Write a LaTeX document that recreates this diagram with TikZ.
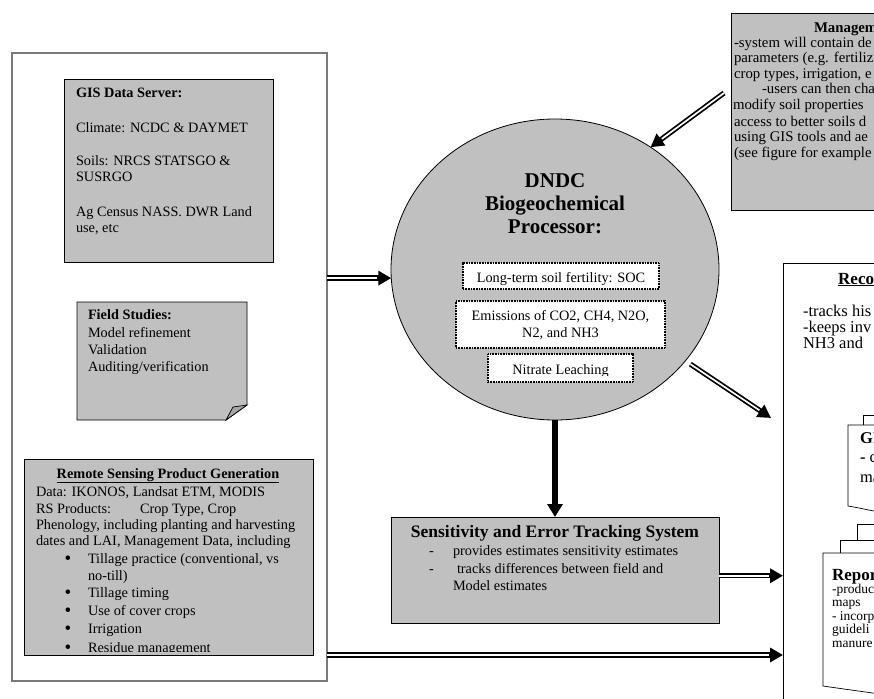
\documentclass[tikz,border=0pt]{standalone}
\usepackage{fontspec}
\setmainfont{Liberation Serif}
\usetikzlibrary{shapes.geometric, arrows.meta}
\definecolor{boxgray}{HTML}{C0C0C0}
\definecolor{foldgray}{HTML}{A6A6A6}
\definecolor{framegray}{HTML}{7A7A7A}
\newcommand{\setfs}[2]{\fontsize{#1}{#2}\selectfont}
\tikzset{
  gbox/.style={draw=black, line width=0.8pt, fill=boxgray, inner sep=0pt, outer sep=0pt, anchor=north west},
  wbox/.style={draw=black, line width=0.8pt, fill=white, inner sep=0pt, outer sep=0pt, anchor=north west},
  dotbox/.style={draw=black, line width=1.6pt, dash pattern=on 0.8pt off 0.8pt, fill=white, inner sep=0pt, outer sep=0pt, anchor=north west},
  txt/.style={inner sep=0pt, outer sep=0pt, anchor=base west, font=\setfs{14.3}{16}},
  ctxt/.style={inner sep=0pt, outer sep=0pt, anchor=base, font=\setfs{14.3}{16}},
  btxt/.style={inner sep=0pt, outer sep=0pt, anchor=base west, font=\bfseries\setfs{14.3}{16}},
  bul/.style={inner sep=0pt, outer sep=0pt, anchor=base, font=\setfs{19}{16}},
  mtxt/.style={inner sep=0pt, outer sep=0pt, anchor=base west, font=\setfs{14.8}{16}},
  dblarr/.style={line width=5.2pt, -{Triangle[length=13pt,width=14pt]},
    postaction={draw=white, line width=1.7pt, -, shorten >=14pt}},
  solarr/.style={line width=5.5pt, -{Triangle[length=13pt,width=15pt]}},
  docline/.style={draw=black, line width=0.7pt, fill=white}
}
\begin{document}
\begin{tikzpicture}[x=1pt, y=-1pt]
\useasboundingbox (0,0) rectangle (874,698);
\clip (0,0) rectangle (874,698);
\fill[white] (0,0) rectangle (874,698);

% ---------- left frame ----------
\node[draw=framegray, line width=1.2pt, fill=white, inner sep=0pt, outer sep=0pt, anchor=north west,
      minimum width=315, minimum height=628] (lbox) at (12,53) {};

% GIS data server
\node[gbox, minimum width=209, minimum height=183] (gis) at (64,79) {};
\node[btxt] (gis1) at (76,98) {GIS Data Server:};
\node[txt] (gis2) at (76,132) {Climate: NCDC \& DAYMET};
\node[txt] (gis3) at (76,165) {Soils: NRCS STATSGO \&};
\node[txt] (gis4) at (76,181) {SUSRGO};
\node[txt] (gis5) at (76,216) {Ag Census NASS. DWR Land};
\node[txt] (gis6) at (76,232) {use, etc};

% Field studies (folded corner note)
\draw[draw=black, line width=0.8pt, fill=boxgray] (77,302) -- (247,302) -- (247,405) -- (226,420) -- (77,420) -- cycle;
\draw[draw=black, line width=0.7pt, fill=foldgray] (226,420) -- (233,407) -- (247,405) -- cycle;
\node[btxt] (fs1) at (88,319) {Field Studies:};
\node[txt] (fs2) at (88,337) {Model refinement};
\node[txt] (fs3) at (88,354) {Validation};
\node[txt] (fs4) at (88,371) {Auditing/verification};

% Remote sensing
\node[gbox, minimum width=289, minimum height=196] (rs) at (24,459) {};
\node[inner sep=0pt, anchor=base, font=\bfseries\setfs{14.3}{16}] (rs0) at (168,478) {\underline{Remote Sensing Product Generation}};
\begin{scope}
\clip (24,459) rectangle (313,651);
\node[txt] (rs1) at (36,496) {Data: IKONOS, Landsat ETM, MODIS};
\node[txt] (rs2) at (36,513) {RS Products:};
\node[txt] (rs2b) at (140,513) {Crop Type, Crop};
\node[txt] (rs3) at (36,529) {Phenology, including planting and harvesting};
\node[txt] (rs4) at (36,545) {dates and LAI, Management Data, including};
\node[bul] (b1) at (68,564) {•};
\node[txt] (rs5) at (88,563) {Tillage practice (conventional, vs};
\node[txt] (rs6) at (88,580) {no-till)};
\node[bul] (b2) at (68,598) {•};
\node[txt] (rs7) at (88,597) {Tillage timing};
\node[bul] (b3) at (68,616) {•};
\node[txt] (rs8) at (88,615) {Use of cover crops};
\node[bul] (b4) at (68,634) {•};
\node[txt] (rs9) at (88,633) {Irrigation};
\node[bul] (b5) at (68,653) {•};
\node[txt] (rs10) at (88,652) {Residue management};
\end{scope}

% ---------- DNDC processor ----------
\node[ellipse, draw=black, line width=0.8pt, fill=boxgray, minimum width=328, minimum height=301, inner sep=0pt, outer sep=0pt] (circ) at (555,269.5) {};
\node[inner sep=0pt, anchor=base, font=\bfseries\setfs{21}{23}] (dn1) at (555,187) {DNDC};
\node[inner sep=0pt, anchor=base, font=\bfseries\setfs{21}{23}] (dn2) at (555,210) {Biogeochemical};
\node[inner sep=0pt, anchor=base, font=\bfseries\setfs{21}{23}] (dn3) at (555,233) {Processor:};

\node[dotbox, minimum width=196, minimum height=26] (d1) at (463,263) {};
\node[ctxt] (d1t) at (561,282) {Long-term soil fertility: SOC};
\node[dotbox, minimum width=209, minimum height=47] (d2) at (456,301) {};
\node[ctxt] (d2a) at (560.5,320) {Emissions of CO2, CH4, N2O,};
\node[ctxt] (d2b) at (560.5,337) {N2, and NH3};
\node[dotbox, minimum width=145, minimum height=28] (d3) at (488,354) {};
\begin{scope}
\clip (488,354) rectangle (633,375.5);
\node[ctxt] (d3t) at (560.5,374) {Nitrate Leaching};
\end{scope}

% ---------- Management ----------
\node[gbox, minimum width=200, minimum height=197] (mgmt) at (731,13) {};
\node[btxt, font=\bfseries\setfs{14.8}{16}] (m0) at (814,33) {Managem};
\node[mtxt] (m1) at (734,48) {-system will contain de};
\node[mtxt] (m2) at (734,63) {parameters (e.g. fertiliz};
\node[mtxt] (m3) at (734,79) {crop types, irrigation, e};
\node[mtxt] (m4) at (762,94) {-users can then cha};
\node[mtxt] (m5) at (733,110) {modify soil properties};
\node[mtxt] (m6) at (734,126) {access to better soils d};
\node[mtxt] (m7) at (734,141) {using GIS tools and ae};
\node[mtxt] (m8) at (734,157) {(see figure for example};

% ---------- Sensitivity ----------
\node[gbox, minimum width=328, minimum height=106] (sens) at (391,517) {};
\node[inner sep=0pt, anchor=base, font=\bfseries\setfs{17.5}{19}] (s0) at (555,537) {Sensitivity and Error Tracking System};
\node[txt] (s1) at (429,555) {-};
\node[txt] (s1t) at (453,555) {provides estimates sensitivity estimates};
\node[txt] (s2) at (429,573) {-};
\node[txt] (s2t) at (457,573) {tracks differences between field and};
\node[txt] (s3) at (453,590) {Model estimates};

% ---------- Record ----------
\node[wbox, minimum width=200, minimum height=470] (rec) at (783,263) {};
\node[inner sep=0pt, anchor=base west, font=\bfseries\setfs{17}{18}] (r0) at (838,284) {\underline{Reco}};
\node[txt, font=\setfs{16.5}{17}] (r1) at (803,316) {-tracks his};
\node[txt, font=\setfs{16.5}{17}] (r2) at (803,332) {-keeps inv};
\node[txt, font=\setfs{16.5}{17}] (r3) at (803,348) {NH3 and};

% GIS document stack
\draw[docline] (863,425) -- (863,415) -- (880,415) -- (880,425);
\draw[docline] (880,425) -- (848,425) -- (848,506) .. controls (860,508) and (870,510.5) .. (880,512) -- cycle;
\node[btxt, font=\bfseries\setfs{16.5}{17}] (gd1) at (860,443) {GI};
\node[txt, font=\setfs{16.5}{17}] (gd2) at (860,462) {{\bfseries -} c};
\node[txt, font=\setfs{16.5}{17}] (gd3) at (860,482) {ma};

% Report document stack
\draw[docline] (857,540) -- (857,524) -- (880,524) -- (880,540);
\draw[docline] (840,553) -- (840,540) -- (880,540) -- (880,553);
\draw[docline] (880,553) -- (823,553) -- (823,686) .. controls (840,688.5) and (862,691.5) .. (880,694) -- cycle;
\node[btxt, font=\bfseries\setfs{17}{18}] (rp0) at (832,580) {Repor};
\node[txt, font=\setfs{13.5}{13.5}] (rp1) at (832,593) {-produc};
\node[txt, font=\setfs{13.5}{13.5}] (rp2) at (832,606) {maps};
\node[txt, font=\setfs{13.5}{13.5}] (rp3) at (832,620) {- incorp};
\node[txt, font=\setfs{13.5}{13.5}] (rp4) at (832,633) {guideli};
\node[txt, font=\setfs{13.5}{13.5}] (rp5) at (832,647) {manure};

% ---------- connectors ----------
\coordinate (mtail) at (724,93);
\coordinate (rtip) at (771,418);
\draw[dblarr] (lbox.east |- circ.183) -- (circ.183);
\draw[dblarr] (mtail) -- (circ.52);
\draw[dblarr, shorten <=6pt] (circ.-35) -- (rtip);
\draw[solarr] (circ.south) -- (circ.south |- sens.north);
\draw[dblarr] (sens.-2.4) -- (rec.west |- sens.-2.4);
\draw[dblarr] (lbox.east |- rs.south) -- (rec.west |- rs.south);
\end{tikzpicture}
\end{document}
